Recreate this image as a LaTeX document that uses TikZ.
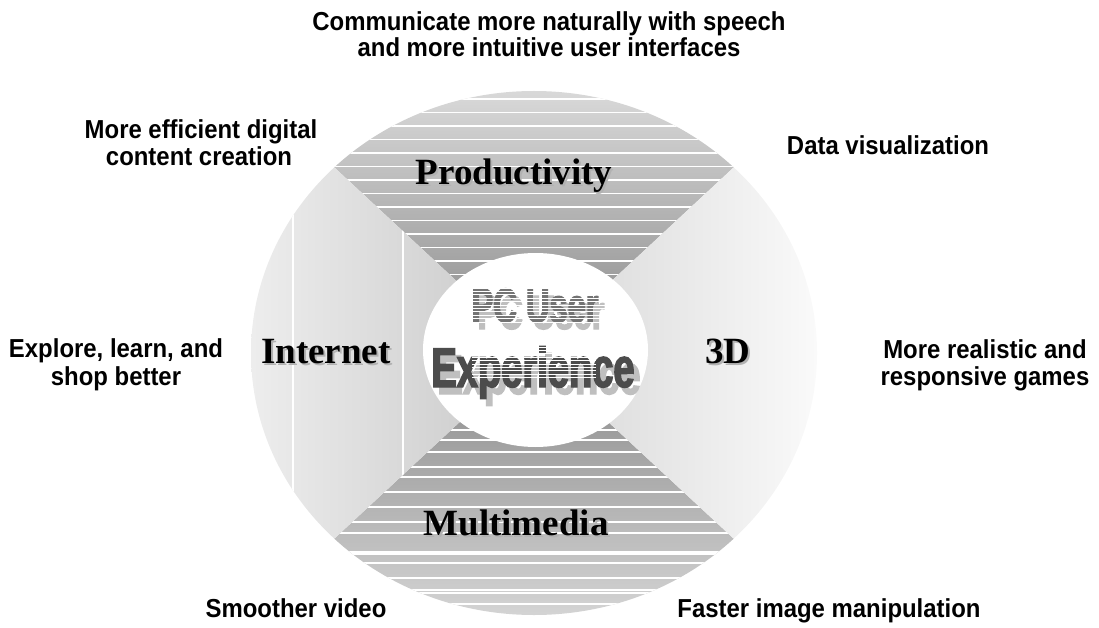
\documentclass[tikz,border=0pt]{standalone}
\usepackage{fontspec}
\setmainfont{Liberation Serif}
\newfontfamily\notefont{Liberation Sans}[FakeStretch=0.92]
\newfontfamily\bannerfont{Liberation Sans}[FakeStretch=0.68, FakeBold=2.5]
\begin{document}
\begin{tikzpicture}[x=1pt,y=-1pt,
  note/.style={font=\notefont\bfseries\fontsize{26}{30}\selectfont, anchor=base, inner sep=0pt},
  sector/.style={font=\bfseries\fontsize{37}{40}\selectfont, anchor=base, inner sep=0pt},
  sectorshade/.style={sector, text=black!30},
  banner/.style={font=\bannerfont\bfseries, anchor=base, inner sep=0pt},
  stripe/.style={white, line width=1.3pt},
  fine stripe/.style={white, line width=0.75pt}]
\useasboundingbox (0,0) rectangle (1099,628);
\coordinate (hub) at (534,353);

% outer ring split into four wedges
\begin{scope}
  \clip (hub) ellipse [x radius=283pt, y radius=262pt];
  % Productivity wedge
  \begin{scope}
    \clip (hub) -- (136,-17) -- (932,-17) -- cycle;
    \shade[top color=black!15, bottom color=black!47] (240,91) rectangle (830,353);
    \foreach \y in {99,112.5,...,302} \draw[stripe] (240,\y) -- (830,\y);
  \end{scope}
  % Multimedia wedge
  \begin{scope}
    \clip (hub) -- (136,723) -- (932,723) -- cycle;
    \shade[top color=black!47, bottom color=black!17] (240,353) rectangle (830,615);
    \foreach \y in {430,440,452,467,477,492,507,522,533,552,554,563,578,590,593,604}
      \draw[stripe] (240,\y) -- (830,\y);
  \end{scope}
  % Internet wedge
  \begin{scope}
    \clip (hub) -- (136,-17) -- (136,723) -- cycle;
    \shade[left color=black!7, right color=black!22] (251,91) rectangle (534,615);
    \draw[stripe] (293,80) -- (293,630);
    \draw[stripe] (403,80) -- (403,630);
  \end{scope}
  % 3D wedge
  \begin{scope}
    \clip (hub) -- (932,-17) -- (932,723) -- cycle;
    \shade[left color=black!16, right color=black!2] (534,91) rectangle (817,615);
  \end{scope}
\end{scope}

% white core
\fill[white] (535.5,350) ellipse [x radius=112.5pt, y radius=97pt];

% core title with drop shadow
\node[banner, font=\bannerfont\bfseries\fontsize{48}{50}\selectfont, text=black!25] (pcshade) at (541,329) {PC User};
\node[banner, font=\bannerfont\bfseries\fontsize{48}{50}\selectfont, text=black!55] (pc) at (535,322) {PC User};
\node[banner, font=\bannerfont\bfseries\fontsize{56}{58}\selectfont, text=black!25] (expshade) at (539,394) {Experience};
\node[banner, font=\bannerfont\bfseries\fontsize{56}{58}\selectfont, text=black!70] (exp) at (533,387) {Experience};
\begin{scope}
  \clip (455,286) rectangle (620,322);
  \foreach \y in {288,291.4,...,322} \draw[fine stripe] (455,\y) -- (620,\y);
\end{scope}
\begin{scope}
  \clip (472,345) rectangle (596,380);
  \foreach \y in {347,350.4,...,380} \draw[fine stripe] (472,\y) -- (596,\y);
\end{scope}

% wedge labels
\node[sectorshade] at (516,187) {Productivity};
\node[sector] (prod) at (514,185) {Productivity};
\node[sectorshade] at (328,365) {Internet};
\node[sector] (inet) at (326,363) {Internet};
\node[sectorshade] at (730,365) {3D};
\node[sector] (threed) at (728,363) {3D};
\node[sectorshade] at (518,537) {Multimedia};
\node[sector] (mm) at (516,535) {Multimedia};

% benefit notes
\node[note] (speechA) at (549,31) {Communicate more naturally with speech};
\node[note] (speechB) at (549,57) {and more intuitive user interfaces};
\node[note] (dccA) at (201,139) {More efficient digital};
\node[note] (dccB) at (199,166) {content creation};
\node[note] (dataviz) at (888,155) {Data visualization};
\node[note] (webA) at (116,357) {Explore, learn, and};
\node[note] (webB) at (116,385) {shop better};
\node[note] (gameA) at (985,358) {More realistic and};
\node[note] (gameB) at (985,385) {responsive games};
\node[note] (video) at (296,617) {Smoother video};
\node[note] (image) at (829,617) {Faster image manipulation};
\end{tikzpicture}
\end{document}
